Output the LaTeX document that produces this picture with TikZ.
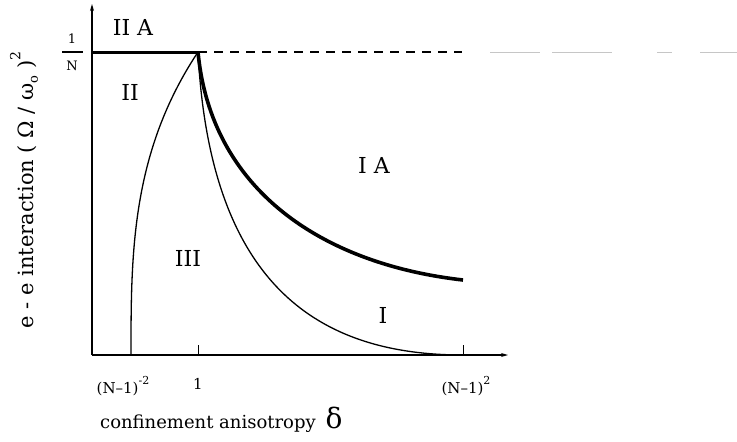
\documentclass[tikz,border=0pt]{standalone}
\usepackage{fontspec}
\setmainfont{DejaVu Serif}
\usetikzlibrary{arrows.meta}
\begin{document}
\begin{tikzpicture}[x=1pt,y=-1pt,
  axis/.style={line width=1.3pt,-{Stealth[length=7pt,width=4pt]}},
  thincurve/.style={line width=1.3pt},
  thickcurve/.style={line width=3.6pt},
  region/.style={font=\fontsize{22}{26}\selectfont,inner sep=0pt},
  ticklbl/.style={font=\fontsize{15}{18}\selectfont,inner sep=0pt},
  small/.style={font=\fontsize{13}{15}\selectfont,inner sep=0pt}]
\useasboundingbox (0,0) rectangle (737,442);
% axes
\coordinate (O) at (92,355);
\coordinate (xend) at (508,355);
\coordinate (ytop) at (92,4);
\draw[axis] (O) -- (xend);
\draw[axis] (O) -- (ytop);
% 1/N line
\coordinate (yN) at (92,52);
\coordinate (P1) at (198,52);
\coordinate (dend) at (462,52);
\coordinate (fstart) at (490,52);
\coordinate (fend) at (737,52);
\draw[line width=3pt] (yN) -- (P1);
\draw[line width=1.8pt,dash pattern=on 9pt off 7pt] (P1) -- (dend);
\draw[line width=0.8pt,gray!45,dash pattern=on 50pt off 12pt on 60pt off 45pt on 15pt off 28pt] (fstart) -- (fend);
% fraction tick 1/N
\coordinate (fl) at (62,52);
\coordinate (fr) at (83,52);
\draw[line width=1.4pt] (fl) -- (fr);
\node[small] (one) at (72,39) {1};
\node[small] (N) at (72,66) {N};
% ticks
\coordinate (t1) at (198,355);
\coordinate (t1u) at (198,345);
\coordinate (t2) at (463,355);
\coordinate (t2u) at (463,345);
\draw[line width=1pt] (t1) -- (t1u);
\draw[line width=1pt] (t2) -- (t2u);
% left curve (II / III boundary)
\draw[thincurve] plot[domain=0:1,samples=80] ({131+67*\x*\x*\x},{355-303*\x});
% thin right curve (I / III boundary)
\coordinate (Rend) at (463,355);
\draw[thincurve] (P1) .. controls (210,285) and (318,355) .. (Rend);
% thick curve (IA boundary)
\coordinate (Tend) at (463,280);
\draw[thickcurve] (P1) .. controls (211,190) and (322,264) .. (Tend);
% region labels
\node[region] (IIA) at (133,27) {II A};
\node[region] (II) at (130,92) {II};
\node[region] (IA) at (374,165) {I A};
\node[region] (III) at (188,258) {III};
\node[region] (I) at (383,315) {I};
% tick labels
\node[ticklbl] (lx1) at (123,386) {(N–1)\raisebox{1.1ex}{\fontsize{11}{12}\selectfont -2}};
\node[ticklbl] (lx2) at (198,384) {1};
\node[ticklbl] (lx3) at (466,386) {(N–1)\raisebox{1.1ex}{\fontsize{11}{12}\selectfont 2}};
% axis titles
\node[font=\fontsize{18}{21}\selectfont,inner sep=0pt,anchor=west] (xlab) at (100,424) {confinement anisotropy};
\node[font=\fontsize{28}{32}\selectfont,inner sep=0pt] (delta) at (334,418) {δ};
\node[font=\fontsize{21}{24}\selectfont,inner sep=0pt,rotate=90] (ylab) at (24,190) {e - e interaction ( Ω / ω\raisebox{-0.4ex}{\fontsize{13}{14}\selectfont o} )\raisebox{1.2ex}{\fontsize{14}{15}\selectfont 2}};
\end{tikzpicture}
\end{document}
